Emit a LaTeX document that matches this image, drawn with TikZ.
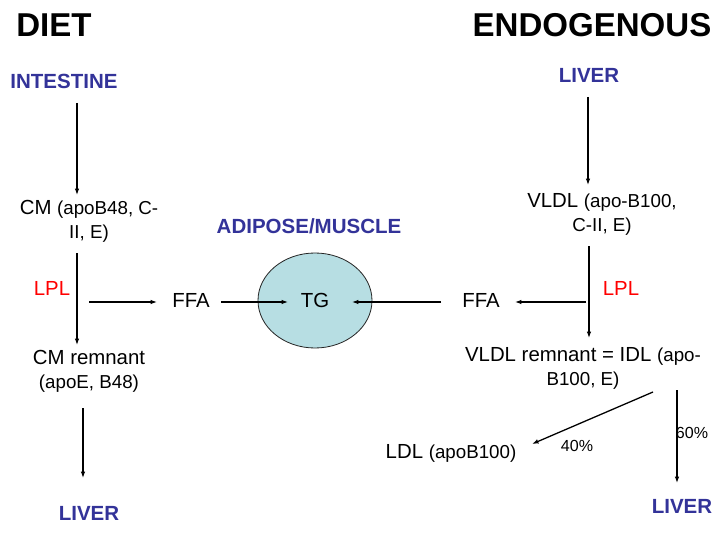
\documentclass[tikz,border=0pt]{standalone}
\usepackage{fontspec}
\setmainfont{Liberation Sans}
\usetikzlibrary{shapes.geometric,calc,arrows.meta}
\definecolor{orgblue}{RGB}{51,51,153}
\definecolor{lplred}{RGB}{255,0,0}
\definecolor{tgfill}{RGB}{183,222,227}
\newcommand\apo[1]{{\fontsize{16}{20.5}\selectfont #1}}
\begin{document}
\begin{tikzpicture}[x=0.03cm,y=-0.03cm,
  every node/.style={inner sep=0pt,align=center},
  head/.style={font=\fontsize{28.2}{34}\selectfont\bfseries},
  organ/.style={font=\fontsize{17.5}{20}\selectfont\bfseries,text=orgblue},
  lipo/.style={font=\fontsize{17.4}{20.5}\selectfont},
  enz/.style={font=\fontsize{17.4}{20}\selectfont,text=lplred},
  pct/.style={font=\fontsize{13.7}{16}\selectfont},
  tgball/.style={ellipse,draw=black!85,line width=0.7pt,fill=tgfill,minimum width=3.42cm,minimum height=2.85cm},
  arr/.style={-{Latex[length=5.5pt,width=4pt]},line width=1.1pt}]
\useasboundingbox (0,0) rectangle (720,535);
\node[head] (diet) at (54,25) {DIET};
\node[head] (endo) at (592,25) {ENDOGENOUS};
\node[organ] (intestine) at (64,81) {INTESTINE};
\node[organ] (liverT) at (589,75) {LIVER};
\node[lipo] (cm) at (89,221) {CM \apo{(apoB48, C-}\\\apo{II, E)}};
\node[enz] (lplL) at (52,288) {LPL};
\node[lipo] (ffaL) at (191,300) {FFA};
\node[organ] (adipose) at (309,226) {ADIPOSE/MUSCLE};
\node[tgball,lipo] (tg) at (315,300.5) {TG};
\node[lipo] (ffaR) at (481,300) {FFA};
\node[lipo] (vldl) at (602,214) {VLDL \apo{(apo-B100,}\\\apo{C-II, E)}};
\node[enz] (lplR) at (621,288) {LPL};
\node[lipo] (cmrem) at (89,371) {CM remnant\\\apo{(apoE, B48)}};
\node[organ] (liverL) at (89,513) {LIVER};
\node[lipo] (idl) at (583,368) {VLDL remnant = IDL \apo{(apo-}\\\apo{B100, E)}};
\node[lipo] (ldl) at (451,453) {LDL \apo{(apoB100)}};
\node[pct] (p40) at (577,446) {40\%};
\node[pct] (p60) at (692,433) {60\%};
\node[organ] (liverR) at (682,506) {LIVER};
\draw[arr] ($(intestine)+(13,22)$) -- ($(cm)+(-12,-26)$);
\draw[arr] ($(cm)+(-12,32)$) -- ($(cmrem)+(-12,-26)$);
\draw[arr] ($(lplL)+(37,14)$) -- ($(ffaL)+(-34,2)$);
\draw[arr] ($(ffaL)+(30,2)$) -- ($(tg)+(-27,1.5)$);
\draw[arr] ($(ffaR)+(-40,2)$) -- ($(tg)+(37,1.5)$);
\draw[arr] ($(lplR)+(-35,14)$) -- ($(ffaR)+(34,2)$);
\draw[arr] ($(liverT)+(-1,22)$) -- ($(vldl)+(-14,-29)$);
\draw[arr] ($(vldl)+(-13,32)$) -- ($(idl)+(6,-30)$);
\draw[arr] ($(cmrem)+(-6,37)$) -- ($(liverL)+(-6,-35)$);
\draw[arr] ($(idl)+(70,24)$) -- ($(ldl)+(81,-9)$);
\draw[arr] ($(idl)+(94,22)$) -- ($(liverR)+(-5,-23)$);
\end{tikzpicture}
\end{document}
